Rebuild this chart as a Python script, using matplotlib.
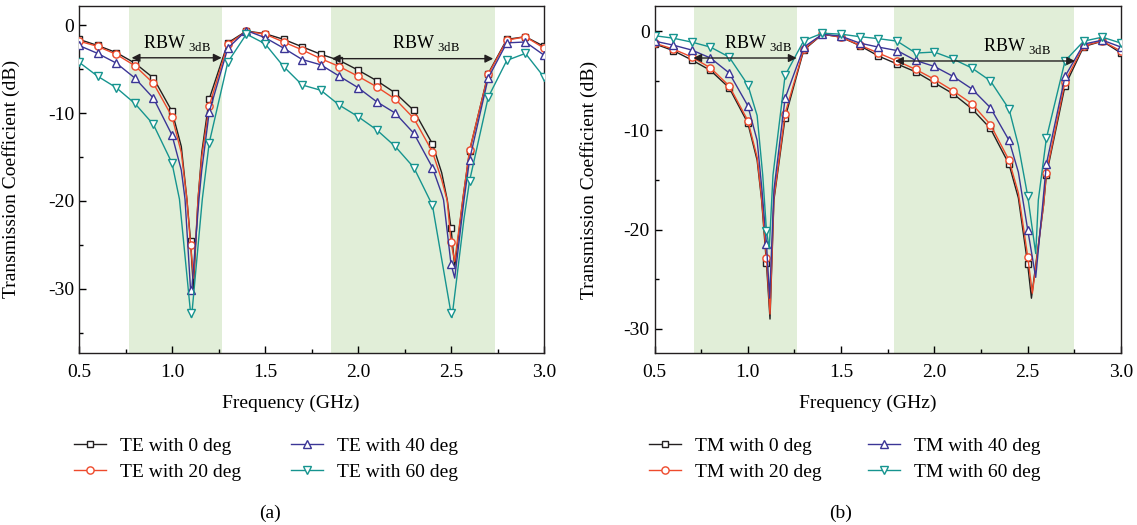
import matplotlib
matplotlib.use("Agg")
import matplotlib.pyplot as plt

plt.rcParams['font.family'] = ['Liberation Serif', 'DejaVu Serif']
plt.rcParams['mathtext.fontset'] = 'custom'
plt.rcParams['mathtext.rm'] = 'Liberation Serif'
plt.rcParams['axes.unicode_minus'] = False

# ---------------- data ----------------
freq = [0.5, 0.6, 0.7, 0.8, 0.9, 1.0, 1.1, 1.2, 1.3, 1.4, 1.5, 1.6, 1.7,
        1.8, 1.9, 2.0, 2.1, 2.2, 2.3, 2.4, 2.5, 2.6, 2.7, 2.8, 2.9, 3.0]

# TE (panel a), values at the marker frequencies
te_0 = [-1.6, -2.3, -3.1, -4.3, -6.0, -9.8, -24.6, -8.4, -2.0, -0.65, -0.95, -1.6, -2.45,
        -3.3, -4.0, -5.1, -6.3, -7.7, -9.7, -13.5, -23.1, -14.3, -5.5, -1.6, -1.3, -2.4]
te_20 = [-1.8, -2.4, -3.3, -4.6, -6.6, -10.4, -25.0, -9.2, -2.15, -0.7, -1.0, -1.9, -2.8,
         -3.8, -4.7, -5.8, -7.0, -8.4, -10.6, -14.4, -24.7, -14.2, -5.6, -1.7, -1.3, -2.6]
te_40 = [-2.3, -3.2, -4.3, -6.0, -8.3, -12.5, -30.2, -9.9, -2.6, -0.6, -1.4, -2.6, -3.9,
         -4.5, -5.8, -7.1, -8.7, -10.0, -12.3, -16.2, -27.2, -15.3, -6.0, -2.0, -1.9, -3.4]
te_60 = [-4.2, -5.8, -7.1, -8.9, -11.3, -15.7, -32.8, -13.4, -4.2, -1.0, -2.1, -4.7, -6.8,
         -7.4, -9.1, -10.4, -11.9, -13.8, -16.2, -20.5, -32.8, -17.7, -8.2, -4.0, -3.2, -5.9]

# extra points read along the curves near the resonances (freq, dB)
te_0_extra = [(1.05, -13.8), (1.08, -19.8), (1.115, -30.0), (1.14, -19.8), (1.16, -14.5),
              (2.45, -16.8), (2.48, -19.9), (2.52, -27.5), (2.565, -19.6)]
te_20_extra = [(1.05, -14.5), (1.08, -19.8), (1.116, -28.8), (1.14, -19.8), (1.16, -15.0),
               (2.45, -17.6), (2.48, -20.0), (2.52, -26.9), (2.565, -19.6)]
te_40_extra = [(1.05, -16.5), (1.07, -19.8), (1.105, -30.5), (1.145, -19.8), (1.16, -16.5),
               (2.45, -19.2), (2.46, -19.9), (2.52, -28.8), (2.57, -19.9)]
te_60_extra = [(1.04, -19.8), (1.105, -33.3), (1.163, -19.8),
               (2.505, -33.3), (2.53, -29.0), (2.57, -22.0)]

# TM (panel b)
tm_0 = [-1.27, -1.95, -2.9, -3.95, -5.7, -9.25, -23.4, -8.7, -1.9, -0.3, -0.6, -1.45, -2.5,
        -3.3, -4.1, -5.2, -6.3, -7.8, -9.8, -13.4, -23.5, -14.5, -5.5, -1.55, -1.0, -2.2]
tm_20 = [-1.2, -1.8, -2.6, -3.7, -5.5, -9.0, -22.8, -8.3, -1.8, -0.3, -0.6, -1.4, -2.2,
         -3.0, -3.85, -4.85, -6.0, -7.3, -9.4, -13.0, -22.7, -14.3, -5.1, -1.45, -1.0, -2.0]
tm_40 = [-1.0, -1.4, -1.9, -2.7, -4.2, -7.5, -21.4, -6.75, -1.6, -0.3, -0.5, -1.2, -1.6,
         -1.95, -2.95, -3.55, -4.55, -5.8, -7.7, -11.0, -20.0, -13.4, -4.55, -1.3, -0.9, -1.6]
tm_60 = [-0.45, -0.7, -1.1, -1.6, -2.6, -5.4, -20.1, -4.45, -0.95, -0.2, -0.3, -0.55, -0.75,
         -1.0, -2.2, -2.1, -2.8, -3.7, -5.0, -7.85, -16.6, -10.8, -3.0, -1.0, -0.6, -1.2]

tm_0_extra = [(1.05, -13.0), (1.074, -17.0), (1.119, -29.0), (1.14, -17.0),
              (2.45, -16.8), (2.52, -26.9), (2.585, -17.5)]
tm_20_extra = [(1.05, -12.7), (1.074, -16.8), (1.119, -28.5), (1.14, -16.8),
               (2.45, -16.3), (2.525, -26.4), (2.585, -17.5)]
tm_40_extra = [(1.05, -11.0), (1.076, -16.0), (1.117, -26.9), (1.14, -16.0),
               (2.45, -14.2), (2.543, -24.8), (2.58, -17.5)]
tm_60_extra = [(1.05, -8.5), (1.08, -14.5), (1.115, -21.9), (1.135, -14.5),
               (2.45, -11.5), (2.543, -22.4), (2.557, -17.0)]

te_labels = ['TE with 0 deg', 'TE with 20 deg', 'TE with 40 deg', 'TE with 60 deg']
tm_labels = ['TM with 0 deg', 'TM with 20 deg', 'TM with 40 deg', 'TM with 60 deg']

te_bands = [(0.77, 1.267), (1.855, 2.737)]
tm_bands = [(0.711, 1.265), (1.784, 2.748)]

# ---------------- style ----------------
colors = ['#231f20', '#ee4a2c', '#3b3596', '#16948f']
markers = ['s', 'o', '^', 'v']
msizes = [4.2, 5.2, 6.2, 6.2]
shade = '#e1eed8'
FS = 14

W, H = 1137, 525
fig = plt.figure(figsize=(W / 100, H / 100), dpi=100)


def fx(px):
    return px / W


def fy(py):
    return 1 - py / H


axL = fig.add_axes([fx(79), fy(352.7), fx(544) - fx(79), fy(6) - fy(352.7)])
axR = fig.add_axes([fx(654.5), fy(353.3), fx(1121) - fx(654.5), fy(6) - fy(353.3)])


def draw(ax, series, extras, labels):
    handles = []
    for i, (vals, ext) in enumerate(zip(series, extras)):
        base = list(zip(freq, vals))
        pts = sorted(base + list(ext))
        xs = [p[0] for p in pts]
        ys = [p[1] for p in pts]
        mark_idx = [k for k, p in enumerate(pts) if p in base]
        h, = ax.plot(xs, ys, color=colors[i], lw=1.0, marker=markers[i], ms=msizes[i],
                     mfc='white', mec=colors[i], mew=1.0, markevery=mark_idx,
                     label=labels[i], zorder=3)
        handles.append(h)
    return handles


hL = draw(axL, [te_0, te_20, te_40, te_60],
          [te_0_extra, te_20_extra, te_40_extra, te_60_extra], te_labels)
hR = draw(axR, [tm_0, tm_20, tm_40, tm_60],
          [tm_0_extra, tm_20_extra, tm_40_extra, tm_60_extra], tm_labels)

for ax, bands in ((axL, te_bands), (axR, tm_bands)):
    for a, b in bands:
        ax.axvspan(a, b, color=shade, lw=0, zorder=0)
    ax.set_xlim(0.5, 3.0)
    ax.set_xticks([0.5, 1.0, 1.5, 2.0, 2.5, 3.0])
    ax.set_xticks([0.75, 1.25, 1.75, 2.25, 2.75], minor=True)
    ax.set_xticklabels(['0.5', '1.0', '1.5', '2.0', '2.5', '3.0'])
    ax.set_yticks([0, -10, -20, -30])
    ax.set_yticks([-5, -15, -25, -35], minor=True)
    ax.tick_params(which='both', direction='in', labelsize=FS, width=1.0)
    ax.tick_params(which='major', length=5)
    ax.tick_params(which='minor', length=3)
    ax.tick_params(axis='x', pad=8)
    for s in ax.spines.values():
        s.set_linewidth(1.0)
        s.set_color('#231f20')
    ax.set_ylabel('Transmission Coefficient (dB)', fontsize=FS)

axL.set_ylim(-37.3, 2.2)
axR.set_ylim(-32.45, 2.54)
axL.yaxis.set_label_coords(-0.127, 0.5)
axR.yaxis.set_label_coords(-0.122, 0.5)

# RBW annotations
arrow_kw = dict(arrowstyle='<|-|>', color='#231f20', lw=1.0, mutation_scale=12,
                shrinkA=0, shrinkB=0)
rbw = r'RBW $_{\mathrm{3dB}}$'
axL.annotate('', xy=(0.783, -3.7), xytext=(1.267, -3.7), arrowprops=arrow_kw, zorder=5)
axL.annotate('', xy=(1.859, -3.8), xytext=(2.727, -3.8), arrowprops=arrow_kw, zorder=5)
axR.annotate('', xy=(0.708, -2.7), xytext=(1.262, -2.7), arrowprops=arrow_kw, zorder=5)
axR.annotate('', xy=(1.789, -3.0), xytext=(2.754, -3.0), arrowprops=arrow_kw, zorder=5)
axL.text(0.842, -2.6, rbw, fontsize=13, va='baseline', ha='left', zorder=6)
axL.text(2.181, -2.6, rbw, fontsize=13, va='baseline', ha='left', zorder=6)
axR.text(0.872, -1.7, rbw, fontsize=13, va='baseline', ha='left', zorder=6)
axR.text(2.259, -1.95, rbw, fontsize=13, va='baseline', ha='left', zorder=6)

# x labels and panel tags
fig.text(fx(291), fy(403), 'Frequency (GHz)', fontsize=FS, ha='center', va='center')
fig.text(fx(868), fy(403), 'Frequency (GHz)', fontsize=FS, ha='center', va='center')
fig.text(fx(270), fy(513), '(a)', fontsize=FS, ha='center', va='center')
fig.text(fx(841), fy(513), '(b)', fontsize=FS, ha='center', va='center')

# legends
leg_kw = dict(fontsize=FS, frameon=False, handlelength=1.65, handletextpad=0.72,
              labelspacing=0.45, borderpad=0, borderaxespad=0, loc='center left')


def legend_col(handles, px, py):
    return fig.legend(handles=handles, bbox_to_anchor=(fx(px), fy(py)), **leg_kw)


legend_col(hL[:2], 74, 459)
legend_col(hL[2:], 291, 459)
legend_col(hR[:2], 649, 459)
legend_col(hR[2:], 868, 459)

fig.savefig('out.png', dpi=100)
